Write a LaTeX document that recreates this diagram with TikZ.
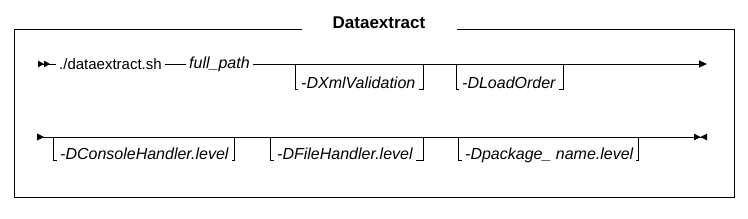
\documentclass[tikz,border=0pt]{standalone}
\usepackage{fontspec}
\setmainfont{Liberation Sans}
\usetikzlibrary{arrows.meta}

\tikzset{
  rail/.style={line width=0.8pt},
  optarg/.style={font=\fontsize{16}{18}\selectfont\itshape, inner xsep=3pt, anchor=base west},
  cmdtxt/.style={font=\fontsize{15}{17}\selectfont, inner xsep=3pt, anchor=west}
}

\begin{document}
\begin{tikzpicture}[x=1pt, y=-1pt]
    \useasboundingbox (0,0) rectangle (748,219);

    % frame and title
    \node[font=\fontsize{17}{19}\selectfont\bfseries, anchor=base, inner xsep=31pt] (title) at (379,29) {Dataextract};
    \coordinate (fbl) at (14,197);
    \coordinate (ftr) at (734,29);
    \draw[rail] (title.base west) -| (fbl) -| (ftr) -- (title.base east);

    % first row
    \coordinate (s1) at (38,64);
    \coordinate (e1) at (707,64);
    \node[cmdtxt] (cmd) at (56,64) {./dataextract.sh};
    \node[cmdtxt, font=\fontsize{16}{18}\selectfont\itshape] (path) at (186,64) {full\_path};
    \draw[rail, {Triangle[length=6pt, width=6.5pt, reversed] Triangle[length=6pt, width=6.5pt, reversed]}-] (s1) -- (cmd.west);
    \draw[rail] (cmd.east) -- (path.west);
    \draw[rail, -{Triangle[length=8pt, width=7pt]}] (path.east) -- (e1);

    \coordinate (xmlL) at (295,64);
    \coordinate (xmlR) at (423,64);
    \node[optarg] (xml) at (298,89) {-DXmlValidation};
    \draw[rail] (xmlL) |- (xml.base west);
    \draw[rail] (xml.base east) -| (xmlR);

    \coordinate (ordL) at (456,64);
    \coordinate (ordR) at (563,64);
    \node[optarg] (ord) at (459,89) {-DLoadOrder};
    \draw[rail] (ordL) |- (ord.base west);
    \draw[rail] (ord.base east) -| (ordR);

    % second row
    \coordinate (s2) at (37,137);
    \coordinate (e2) at (707,137);
    \draw[rail, {Triangle[length=7pt, width=7pt, reversed]}-{Triangle[length=6.5pt, width=6.5pt] Triangle[length=6.5pt, width=6.5pt, reversed]}] (s2) -- (e2);

    \coordinate (conL) at (53,137);
    \coordinate (conR) at (234,137);
    \node[optarg] (con) at (57,160) {-DConsoleHandler.level};
    \draw[rail] (conL) |- (con.base west);
    \draw[rail] (con.base east) -| (conR);

    \coordinate (filL) at (270,137);
    \coordinate (filR) at (423,137);
    \node[optarg] (fil) at (274,160) {-DFileHandler.level};
    \draw[rail] (filL) |- (fil.base west);
    \draw[rail] (fil.base east) -| (filR);

    \coordinate (pkgL) at (458,137);
    \coordinate (pkgR) at (638,137);
    \node[optarg] (pkg) at (462,160) {-Dpackage\_ name.level};
    \draw[rail] (pkgL) |- (pkg.base west);
    \draw[rail] (pkg.base east) -| (pkgR);
\end{tikzpicture}
\end{document}
